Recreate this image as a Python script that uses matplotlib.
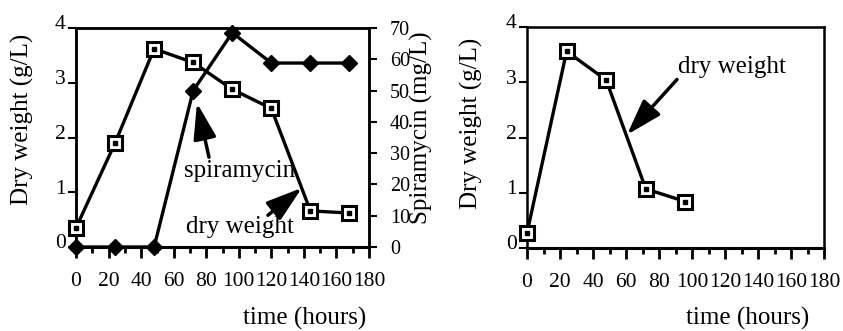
import matplotlib
matplotlib.use("Agg")
import matplotlib.pyplot as plt
from matplotlib.ticker import MultipleLocator
from matplotlib.transforms import ScaledTranslation

plt.rcParams['font.family'] = ['Liberation Serif', 'DejaVu Serif']

# ---- data ----
time_a = [0, 24, 48, 72, 96, 120, 144, 168]
dry_a = [0.35, 1.9, 3.62, 3.37, 2.88, 2.53, 0.66, 0.62]
spira_a = [0, 0, 0, 50, 68.5, 58.8, 58.8, 58.8]

time_b = [0, 24, 48, 72, 96]
dry_b = [0.27, 3.56, 3.04, 1.07, 0.84]

x_ticks = [0, 20, 40, 60, 80, 100, 120, 140, 160, 180]
y_ticks_dry = [0, 1, 2, 3, 4]
y_ticks_spira = [0, 10, 20, 30, 40, 50, 60, 70]

W, H = 843, 331
fig = plt.figure(figsize=(W / 100, H / 100), dpi=100)

def box(x0, x1, ytop, ybot):
    return [x0 / W, 1 - ybot / H, (x1 - x0) / W, (ybot - ytop) / H]

LW = 2.4
TICKFS = 15.5
LABFS = 18

def style_axes(ax):
    ax.set_xlim(0, 180)
    ax.set_ylim(0, 4)
    ax.set_xticks(x_ticks)
    ax.xaxis.set_minor_locator(MultipleLocator(10))
    ax.set_yticks(y_ticks_dry)
    for s in ax.spines.values():
        s.set_linewidth(1.8)
        s.set_color('black')
    ax.spines['bottom'].set_linewidth(2.2)
    ax.tick_params(axis='x', which='major', direction='out', length=8, width=2,
                   pad=10, labelsize=TICKFS)
    ax.tick_params(axis='x', which='minor', direction='out', length=4.5, width=2)
    ax.tick_params(axis='y', which='major', direction='out', length=6, width=1.5,
                   pad=1.5, labelsize=TICKFS)
    for lab in ax.get_yticklabels():
        lab.set_transform(lab.get_transform() + ScaledTranslation(0, 4 / 72, fig.dpi_scale_trans))

def sq(ax, x, y):
    ax.plot(x, y, color='black', lw=LW, marker='s', ms=10, mfc='white',
            mec='black', mew=2.2, zorder=4, clip_on=False)
    ax.plot(x, y, ls='none', marker='s', ms=2.2, color='black', zorder=5, clip_on=False)

# ---- left panel ----
axA = fig.add_axes(box(76, 369, 28, 247))
style_axes(axA)
axA2 = axA.twinx()
axA2.set_ylim(0, 70)
axA2.set_yticks(y_ticks_spira)
axA2.tick_params(axis='y', direction='out', length=6, width=1.5, pad=9, labelsize=14.5)
for s in axA2.spines.values():
    s.set_linewidth(1.8)
axA2.plot(time_a, spira_a, color='black', lw=LW, marker='D', ms=8, mfc='black',
          mec='black', zorder=3, clip_on=False)
axA.set_zorder(axA2.get_zorder() + 1)
axA.patch.set_visible(False)
sq(axA, time_a, dry_a)

arrow = dict(arrowstyle='-|>,head_length=1.1,head_width=0.35', lw=2.5, color='black',
             mutation_scale=20, shrinkA=0, shrinkB=0)
axA.annotate('', xy=(74.3, 2.63), xytext=(81.7, 1.64), arrowprops=arrow, zorder=6)
axA.text(66.3, 1.28, 'spiramycin', fontsize=LABFS, va='baseline', ha='left', zorder=7)
axA.annotate('', xy=(138.8, 1.08), xytext=(117.9, 0.58), arrowprops=arrow, zorder=6)
axA.text(67.6, 0.256, 'dry weight', fontsize=LABFS, va='baseline', ha='left', zorder=7)

fig.text(22 / W, 1 - 119 / H, 'Dry weight (g/L)', rotation=90, fontsize=LABFS,
         ha='center', va='center')
fig.text(421 / W, 1 - 128 / H, 'Spiramycin (mg/L)', rotation=90, fontsize=LABFS,
         ha='center', va='center')
fig.text(305 / W, 1 - 318 / H, 'time (hours)', fontsize=LABFS, ha='center', va='center')

# ---- right panel ----
axB = fig.add_axes(box(527, 824, 27, 248))
style_axes(axB)
sq(axB, time_b, dry_b)
axB.annotate('', xy=(60.6, 2.05), xytext=(90.9, 3.05), arrowprops=arrow, zorder=6)
axB.text(91.5, 3.16, 'dry weight', fontsize=LABFS, va='baseline', ha='left', zorder=7)

fig.text(471 / W, 1 - 123 / H, 'Dry weight (g/L)', rotation=90, fontsize=LABFS,
         ha='center', va='center')
fig.text(748 / W, 1 - 318 / H, 'time (hours)', fontsize=LABFS, ha='center', va='center')

fig.savefig('out.png', dpi=100)
